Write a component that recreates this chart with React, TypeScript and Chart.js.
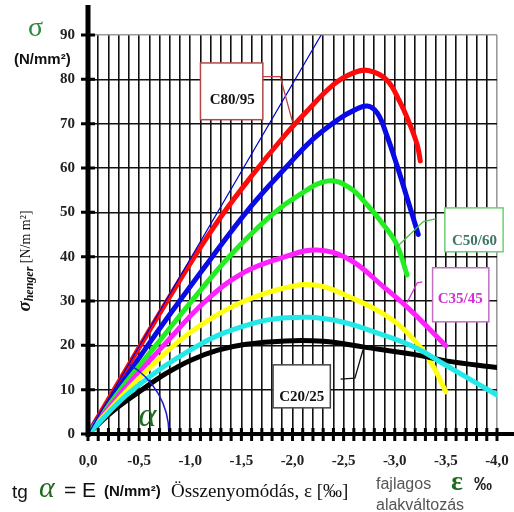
import React, { useEffect, useRef } from 'react';
import { Chart, registerables } from 'chart.js';

Chart.register(...registerables);

// strain (‰, compression negative) and stress (N/mm²)
const c8095X = [0, -0.5, -1.0, -1.3, -1.6, -1.93, -2.12, -2.4, -2.59, -2.74, -2.92, -3.05, -3.15, -3.22, -3.25];
const c8095Y = [0, 19.5, 38.5, 49.0, 58.2, 67.5, 72.3, 78.8, 81.4, 82, 79.9, 74.9, 69.7, 65.2, 61.6];

const c6070X = [0, -0.6, -1.2, -1.6, -1.93, -2.2, -2.45, -2.6, -2.73, -2.83, -2.92, -3.02, -3.12, -3.23];
const c6070Y = [0, 20.5, 39.5, 51.5, 60, 66.5, 71, 73, 74, 72.4, 67.5, 60.7, 53.3, 45];

const c5060X = [0, -0.35, -0.7, -1.05, -1.4, -1.8, -2.07, -2.35, -2.56, -2.73, -2.89, -3.02, -3.12];
const c5060Y = [0, 11, 21, 31, 40.5, 49.5, 54, 57.1, 55.5, 51.7, 47.2, 42.7, 35.9];

const c3545X = [0, -0.35, -0.74, -1.15, -1.53, -1.93, -2.24, -2.56, -2.89, -3.15, -3.5];
const c3545Y = [0, 10, 20, 30, 36.5, 40, 41.5, 39.3, 33.2, 28, 19.9];

const c3037X = [0, -0.39, -0.84, -1.2, -1.53, -1.93, -2.22, -2.56, -2.98, -3.25, -3.38, -3.5];
const c3037Y = [0, 10, 20, 26, 30, 33, 33.6, 30.9, 25.7, 19.6, 15.1, 9.5];

const c2530X = [0, -0.44, -1.08, -1.53, -1.93, -2.4, -2.89, -3.2, -3.5, -4.0];
const c2530Y = [0, 10, 20, 24.4, 26.2, 25.7, 22.3, 19.5, 15.5, 8.8];

const c2025X = [0, -0.25, -0.53, -0.76, -1.0, -1.27, -1.53, -1.93, -2.3, -2.7, -3.2, -3.5, -4.0];
const c2025Y = [0, 5.3, 10, 13.6, 16.6, 18.9, 20.2, 21, 20.9, 19.6, 17.9, 16.5, 15.0];

const tangentX = [0, -2.28];
const tangentY = [0, 90];

const labelNames = ['C80/95', 'C50/60', 'C35/45', 'C20/25'];

const SERIF = "'Liberation Serif', 'Times New Roman', serif";
const SANS = "'Liberation Sans', Arial, sans-serif";

const pts = (xs: number[], ys: number[]) => xs.map((x, i) => ({ x, y: ys[i] }));

export default function App() {
  const ref = useRef<HTMLCanvasElement>(null);

  useEffect(() => {
    const canvas = ref.current!;

    const overlay = {
      id: 'overlay',
      afterDatasetsDraw(chart: any) {
        const ctx = chart.ctx as CanvasRenderingContext2D;
        const xs = chart.scales.x;
        const ys = chart.scales.y;
        const X = (v: number) => xs.getPixelForValue(v);
        const Y = (v: number) => ys.getPixelForValue(v);
        const x0 = X(0);
        const y0 = Y(0);
        ctx.save();

        // alpha arc
        const tx = X(tangentX[1]);
        const ty = Y(tangentY[1]);
        const ang = Math.atan2(ty - y0, tx - x0);
        ctx.strokeStyle = '#1a1ad0';
        ctx.lineWidth = 1.5;
        ctx.beginPath();
        ctx.arc(x0, y0, 81, ang, 0);
        ctx.stroke();

        // axes
        ctx.strokeStyle = '#000';
        ctx.lineWidth = 4;
        ctx.beginPath();
        ctx.moveTo(x0 - 2, y0);
        ctx.lineTo(chart.width, y0);
        ctx.stroke();
        ctx.lineWidth = 5;
        ctx.beginPath();
        ctx.moveTo(x0, y0 + 3);
        ctx.lineTo(x0, 5);
        ctx.stroke();
        ctx.lineWidth = 3;
        ctx.beginPath();
        xs.ticks.forEach((t: any) => {
          const px = X(t.value);
          ctx.moveTo(px, y0 - 6);
          ctx.lineTo(px, y0 + 7);
        });
        ys.ticks.forEach((t: any) => {
          const py = Y(t.value);
          ctx.moveTo(x0 - 7, py);
          ctx.lineTo(x0 + 7, py);
        });
        ctx.stroke();

        // label boxes with leaders
        const box = (
          name: string, ex1: number, sy1: number, ex2: number, sy2: number,
          border: string, color: string, tcx: number, tcy: number,
          leader: number[][], leaderColor: string
        ) => {
          ctx.strokeStyle = leaderColor;
          ctx.lineWidth = 1.3;
          ctx.beginPath();
          leader.forEach((p, i) => {
            if (i === 0) ctx.moveTo(X(p[0]), Y(p[1]));
            else ctx.lineTo(X(p[0]), Y(p[1]));
          });
          ctx.stroke();
          const bx1 = X(ex1), by1 = Y(sy1), bx2 = X(ex2), by2 = Y(sy2);
          ctx.fillStyle = '#fff';
          ctx.fillRect(bx1, by1, bx2 - bx1, by2 - by1);
          ctx.strokeStyle = border;
          ctx.lineWidth = 1.5;
          ctx.strokeRect(bx1, by1, bx2 - bx1, by2 - by1);
          ctx.fillStyle = color;
          ctx.font = `bold 15px ${SERIF}`;
          ctx.textAlign = 'center';
          ctx.textBaseline = 'middle';
          ctx.fillText(name, X(tcx), Y(tcy));
        };
        box(labelNames[0], -1.10, 83.7, -1.71, 70.9, '#b04848', '#111', -1.41, 75.2,
          [[-1.71, 80.6], [-1.88, 80.6], [-2.0, 70.4]], '#c04040');
        box(labelNames[1], -3.49, 51.0, -4.06, 41.1, '#70d070', '#3f7566', -3.78, 43.5,
          [[-3.40, 48.5], [-3.28, 47.9], [-3.02, 42.2]], '#40c040');
        box(labelNames[2], -3.37, 37.5, -3.92, 25.3, '#c070c0', '#d030d0', -3.64, 30.5,
          [[-3.27, 34.3], [-3.22, 34.1], [-3.12, 29.6]], '#d030d0');
        box(labelNames[3], -1.81, 15.6, -2.37, 5.9, '#444', '#111', -2.09, 8.3,
          [[-2.47, 12.4], [-2.61, 12.6], [-2.69, 19.0]], '#111');

        // alpha letter
        ctx.fillStyle = '#1f6b1f';
        ctx.font = `italic 34px ${SERIF}`;
        ctx.textAlign = 'center';
        ctx.textBaseline = 'alphabetic';
        ctx.fillText('α', X(-0.58), Y(1.7));

        ctx.restore();
      },
      afterDraw(chart: any) {
        const ctx = chart.ctx as CanvasRenderingContext2D;
        ctx.save();
        ctx.textBaseline = 'alphabetic';
        ctx.textAlign = 'left';

        // sigma and unit at top-left
        ctx.fillStyle = '#2a8a3a';
        ctx.font = `28px ${SERIF}`;
        ctx.fillText('σ', 28, 36);
        ctx.fillStyle = '#111';
        ctx.font = `bold 15px ${SANS}`;
        ctx.fillText('(N/mm²)', 14, 64);

        // rotated y title
        ctx.save();
        ctx.translate(30, 261);
        ctx.rotate(-Math.PI / 2);
        ctx.fillStyle = '#111';
        const parts: [string, string, number][] = [
          ['σ', `bold italic 19px ${SERIF}`, 0],
          ['henger', `bold italic 12px ${SERIF}`, 3],
          [' [N/m m²]', `14px ${SERIF}`, 0],
        ];
        let total = 0;
        parts.forEach(([t, f]) => { ctx.font = f; total += ctx.measureText(t).width; });
        let cx = -total / 2;
        parts.forEach(([t, f, dy]) => {
          ctx.font = f;
          ctx.fillText(t, cx, dy);
          cx += ctx.measureText(t).width;
        });
        ctx.restore();

        // bottom row
        ctx.fillStyle = '#111';
        ctx.font = `19px ${SANS}`;
        ctx.fillText('tg', 12, 498);
        ctx.fillStyle = '#1f6b1f';
        ctx.font = `italic 30px ${SERIF}`;
        ctx.fillText('α', 39, 497);
        ctx.fillStyle = '#111';
        ctx.font = `21px ${SANS}`;
        ctx.fillText('= E', 64, 497);
        ctx.font = `bold 15px ${SANS}`;
        ctx.fillText('(N/mm²)', 104, 496);
        ctx.font = `19px ${SERIF}`;
        ctx.fillText('Összenyomódás, ε [‰]', 171, 497);
        ctx.fillStyle = '#555';
        ctx.font = `16px ${SANS}`;
        ctx.fillText('fajlagos', 376, 489);
        ctx.fillText('alakváltozás', 376, 510);
        ctx.fillStyle = '#1f6b1f';
        ctx.font = `bold 28px ${SERIF}`;
        ctx.fillText('ε', 451, 490);
        ctx.fillStyle = '#222';
        ctx.font = `bold 18px ${SANS}`;
        ctx.fillText('‰', 474, 490);
        ctx.restore();
      },
    };

    const ds = (data: any[], color: string, width = 5) => ({
      data,
      borderColor: color,
      backgroundColor: color,
      borderWidth: width,
      pointRadius: 0,
      fill: false,
      tension: 0.4,
      borderCapStyle: 'round' as const,
      borderJoinStyle: 'round' as const,
    });

    const gridColor = (max: number) => (c: any) =>
      c.tick && Math.abs(c.tick.value - max) < 1e-9 ? '#999' : '#111';

    const chart = new Chart(canvas, {
      type: 'line',
      data: {
        datasets: [
          { ...ds(pts(tangentX, tangentY), '#0000cc', 1.2), tension: 0 },
          ds(pts(c2530X, c2530Y), '#22e8e8'),
          ds(pts(c2025X, c2025Y), '#000000'),
          ds(pts(c3037X, c3037Y), '#ffff10'),
          ds(pts(c3545X, c3545Y), '#ff20ff'),
          ds(pts(c5060X, c5060Y), '#22ee22'),
          ds(pts(c6070X, c6070Y), '#0a0ae6'),
          ds(pts(c8095X, c8095Y), '#ff0a0a'),
        ] as any,
      },
      options: {
        responsive: false,
        animation: false,
        layout: { padding: { left: 8, top: 35, right: 17, bottom: 0 } },
        plugins: { legend: { display: false }, tooltip: { enabled: false } },
        scales: {
          x: {
            type: 'linear',
            min: -4,
            max: 0,
            reverse: true,
            afterFit: (s: any) => { s.height = 78; s.paddingLeft = 0; s.paddingRight = 0; },
            border: { display: false },
            grid: { color: gridColor(-4), lineWidth: 1.6, drawTicks: false },
            ticks: {
              stepSize: 0.1,
              autoSkip: false,
              maxRotation: 0,
              minRotation: 0,
              padding: 18,
              color: '#222',
              font: { family: SERIF, size: 15, weight: 'bold' },
              callback: (v: any) => {
                const n = Math.round(Number(v) * 10);
                if (n % 5 !== 0) return '';
                return (n / 10).toFixed(1).replace('.', ',');
              },
            },
          },
          y: {
            type: 'linear',
            min: 0,
            max: 90,
            afterFit: (s: any) => { s.width = 80; s.paddingTop = 0; s.paddingBottom = 0; },
            border: { display: false },
            grid: { color: gridColor(90), lineWidth: 1.6, drawTicks: false },
            ticks: {
              stepSize: 10,
              padding: 13,
              color: '#222',
              font: { family: SERIF, size: 15, weight: 'bold' },
            },
          },
        },
      } as any,
      plugins: [overlay],
    });
    return () => chart.destroy();
  }, []);

  return (
    <div style={{ position: 'absolute', left: 0, top: 0, width: 514, height: 512, background: '#fff' }}>
      <canvas ref={ref} width={514} height={512} style={{ display: 'block', width: 514, height: 512 }} />
    </div>
  );
}
